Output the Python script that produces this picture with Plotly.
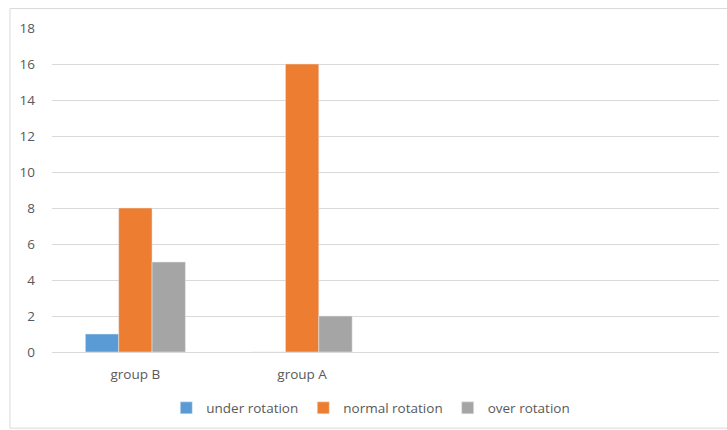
import plotly.graph_objects as go

categories = ["group B", "group A", " ", "  "]
under_rotation = [1, 0, None, None]
normal_rotation = [8, 16, None, None]
over_rotation = [5, 2, None, None]
y_ticks = [0, 2, 4, 6, 8, 10, 12, 14, 16, 18]

fig = go.Figure()
fig.add_bar(x=categories, y=under_rotation, name="under rotation", marker_color="#5B9BD5")
fig.add_bar(x=categories, y=normal_rotation, name="normal rotation", marker_color="#ED7D31")
fig.add_bar(x=categories, y=over_rotation, name="over rotation", marker_color="#A5A5A5")

font = dict(family="Open Sans, Liberation Sans, sans-serif", size=13, color="#595959")

fig.update_layout(
    width=727, height=430,
    margin=dict(l=52, r=8, t=28, b=78, autoexpand=False),
    paper_bgcolor="white", plot_bgcolor="white",
    barmode="group", bargap=0.4, bargroupgap=0,
    font=font,
    showlegend=True,
    legend=dict(orientation="h", xref="container", yref="container",
                x=0.51, xanchor="center", y=0.051, yanchor="middle",
                bgcolor="rgba(0,0,0,0)",
                font=dict(size=13.5, color="#595959"), itemwidth=30, traceorder="normal"),
    xaxis=dict(showgrid=False, showline=False, ticks="", ticklabelstandoff=12,
               tickfont=dict(size=13.5, color="#595959")),
    yaxis=dict(range=[0, 18], tickvals=y_ticks, showgrid=True, gridcolor="#D9D9D9",
               zeroline=True, zerolinecolor="#D9D9D9", zerolinewidth=1,
               showline=False, ticks="", ticklabelstandoff=16,
               tickfont=dict(size=13.5, color="#595959")),
    shapes=[dict(type="rect", xref="paper", yref="paper", x0=-0.063, x1=1.05, y0=-0.235, y1=1.06,
                 line=dict(color="#D9D9D9", width=1), fillcolor="rgba(0,0,0,0)")],
)

fig.write_html("out.html", config={"displayModeBar": False},
               post_script="document.body.style.margin='0';")
